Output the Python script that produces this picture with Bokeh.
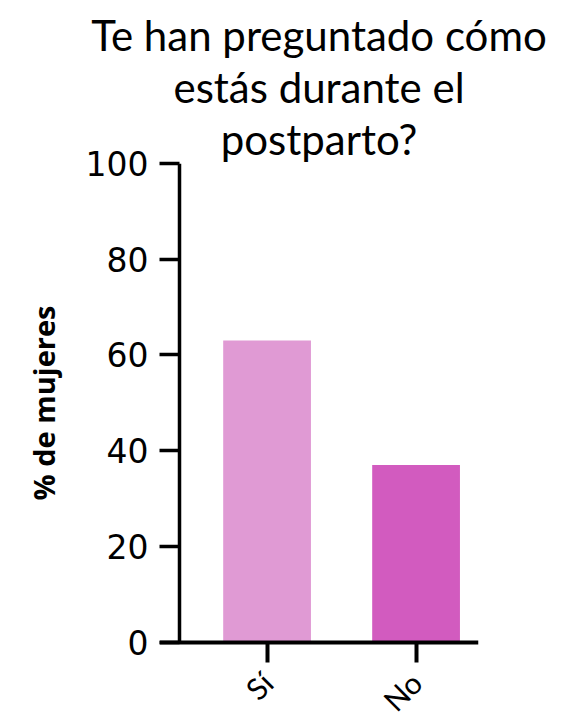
import math
from bokeh.plotting import figure
from bokeh.models import Range1d, FixedTicker, Title, LinearAxis
from bokeh.embed import file_html
from bokeh.resources import INLINE

categories = ["Sí", "No"]
values = [63, 37]
colors = ["#E09AD4", "#D25BBF"]
y_ticks = [0, 20, 40, 60, 80, 100]
title_lines = ["Te han preguntado cómo", "estás durante el", "postparto?"]
y_label = "% de mujeres"

xs = [i + 1 for i in range(len(categories))]

p = figure(width=562, height=720, output_backend="svg", toolbar_location=None,
           x_range=Range1d(0.278, 2.419), y_range=Range1d(-16.37, 100),
           min_border_left=159, min_border_right=84, min_border_bottom=0, min_border_top=163)

for line in reversed(title_lines):
    p.add_layout(Title(text=line, align="center", text_font="Lato", text_font_size="42px",
                       text_font_style="normal", text_color="black", standoff=0), "above")

p.vbar(x=xs, top=values, width=0.589, color=colors, line_color=None)

p.outline_line_color = None
p.xgrid.grid_line_color = None
p.ygrid.grid_line_color = None

# x axis drawn at y = 0 inside the frame
xa = p.xaxis[0]
xa.fixed_location = 0
xa.ticker = FixedTicker(ticks=xs)
xa.major_label_overrides = {x: c for x, c in zip(xs, categories)}
xa.axis_line_width = 4
xa.axis_line_color = "black"
xa.major_tick_line_width = 4
xa.major_tick_out = 20
xa.major_tick_in = 0
xa.minor_tick_line_color = None
xa.major_label_orientation = math.pi / 4
xa.major_label_text_font = "Lato"
xa.major_label_text_font_size = "30px"
xa.major_label_text_color = "black"
xa.major_label_standoff = 15

# y axis: labels at the frame edge, ticks drawn inward to the vertical line
ya = p.yaxis[0]
ya.ticker = FixedTicker(ticks=y_ticks)
ya.axis_line_color = None
ya.major_tick_line_width = 3.5
ya.major_tick_line_color = "black"
ya.major_tick_out = 0
ya.major_tick_in = 20
ya.minor_tick_line_color = None
ya.major_label_text_font = "DejaVu Sans"
ya.major_label_text_font_size = "33px"
ya.major_label_text_color = "black"
ya.major_label_standoff = 11

# vertical axis line from 0 to 100
yline = LinearAxis(fixed_location=0.41, bounds=(0, 100), ticker=FixedTicker(ticks=[]),
                   axis_line_width=3.5, axis_line_color="black",
                   major_tick_line_color=None, minor_tick_line_color=None,
                   major_label_text_font_size="0px")
p.add_layout(yline, "left")

# y axis title, centred on the 0-100 span
p.add_layout(Title(text=y_label, align="right", offset=142, vertical_align="bottom",
                   standoff=40, text_font="Open Sans", text_font_style="bold",
                   text_font_size="29px", text_color="black"), "left")

open("out.html", "w").write(file_html(p, INLINE))
